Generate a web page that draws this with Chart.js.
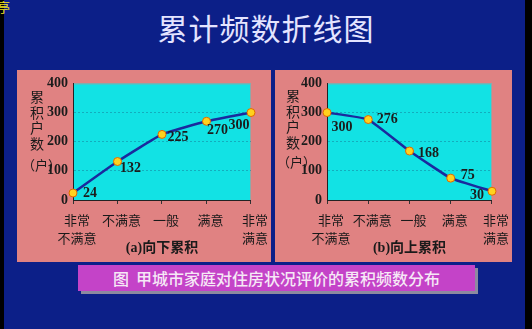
<!DOCTYPE html>
<html>
  <head>
    <meta charset="utf-8" />
    <title>累计频数折线图</title>
    <script src="https://cdn.jsdelivr.net/npm/chart.js"></script>
    <style>
      body { margin: 0; width: 532px; height: 329px; background: #000; overflow: hidden; position: relative; font-family: "Noto Sans CJK SC", sans-serif; }
      .slide { position: absolute; left: 4px; top: 0; width: 521px; height: 329px; background: #0c1f88; }
      .title { position: absolute; left: 0; width: 532px; top: 7px; text-align: center; color: #e4e4ff; font-size: 30px; line-height: 40px; letter-spacing: 1px; }
      .panel { position: absolute; top: 70px; height: 192px; background: #e08282; }
      .panel canvas { position: absolute; left: 0; top: 0; }
      .ytitle { position: absolute; font-size: 14px; line-height: 15.5px; color: #1a1a1a; text-align: center; width: 16px; }
      .yunit { position: absolute; font-size: 13px; line-height: 18px; color: #1a1a1a; white-space: nowrap; }
      .caption { position: absolute; left: 78px; top: 265px; width: 397px; height: 26px; background: #c443c8; box-shadow: 3px 3px 0 #8d8aa0; color: #f6e8f6; font-size: 16px; font-weight: 500; line-height: 26px; text-align: center; }
      .corner { position: absolute; left: -3px; top: -3px; color: #f0e020; font-size: 13px; }
    </style>
  </head>
  <body>
    <div class="slide"></div>
    <div class="corner">亭</div>
    <div class="title">累计频数折线图</div>

    <div class="panel" style="left:17px; width:254px;">
      <canvas id="chartA" width="254" height="192"></canvas>
      <div class="ytitle" style="left:12px; top:19px;">累<br>积<br>户<br>数</div>
      <div class="yunit" style="left:5px; top:86px;">（户）</div>
    </div>

    <div class="panel" style="left:275px; width:237px;">
      <canvas id="chartB" width="237" height="192"></canvas>
      <div class="ytitle" style="left:10px; top:18px;">累<br>积<br>户<br>数</div>
      <div class="yunit" style="left:2px; top:83px;">（户）</div>
    </div>

    <div class="caption">图&nbsp;&nbsp;甲城市家庭对住房状况评价的累积频数分布</div>

    <script>
  // categories and cumulative counts
  const categories = [["非常", "不满意"], ["不满意"], ["一般"], ["满意"], ["非常", "满意"]];
  const downValues = [24, 132, 225, 270, 300];   // (a) 向下累积
  const upValues = [300, 276, 168, 75, 30];      // (b) 向上累积
  const yTicks = [0, 100, 200, 300, 400];

  const serifBold = { family: "'Liberation Serif', 'Noto Sans CJK SC', serif", size: 14, weight: "bold" };

  // cyan plot background + thin frame
  const plotBg = {
    id: "plotBg",
    beforeDraw(chart) {
      const { ctx, chartArea: a } = chart;
      ctx.save();
      ctx.fillStyle = "#12e2e4";
      ctx.fillRect(a.left, a.top, a.right - a.left, a.bottom - a.top);
      ctx.strokeStyle = "#8fa8a8";
      ctx.lineWidth = 1;
      ctx.strokeRect(a.left + 0.5, a.top + 0.5, a.right - a.left - 1, a.bottom - a.top);
      ctx.restore();
    }
  };

  // value labels next to each point
  const valueLabels = {
    id: "valueLabels",
    afterDatasetsDraw(chart, args, opts) {
      const { ctx } = chart;
      const meta = chart.getDatasetMeta(0);
      const values = chart.data.datasets[0].data;
      ctx.save();
      ctx.font = "bold 14px 'Liberation Serif', serif";
      ctx.fillStyle = "#1c1c1c";
      ctx.textAlign = "center";
      ctx.textBaseline = "middle";
      meta.data.forEach((pt, i) => {
        const [dx, dy] = opts.offsets[i];
        ctx.fillText(String(values[i]), pt.x + dx, pt.y + dy);
      });
      ctx.restore();
    }
  };

  function makeChart(id, values, title, yWidth, offsets) {
    const ctx = document.getElementById(id).getContext("2d");
    return new Chart(ctx, {
      type: "line",
      data: {
        labels: categories,
        datasets: [{
          data: values,
          borderColor: "#1a2a9e",
          borderWidth: 2.5,
          tension: 0.12,
          pointRadius: 4,
          pointBackgroundColor: "#ffd21e",
          pointBorderColor: "#e06a00",
          pointBorderWidth: 1
        }]
      },
      options: {
        responsive: false,
        animation: false,
        devicePixelRatio: 1,
        layout: { padding: { top: 12, right: 19, left: 0, bottom: 0 } },
        plugins: {
          legend: { display: false },
          tooltip: { enabled: false },
          valueLabels: { offsets: offsets }
        },
        scales: {
          x: {
            offset: false,
            afterFit: (s) => { s.height = 62; },
            grid: { drawOnChartArea: false, drawTicks: true, tickLength: 4, color: "#333" },
            border: { display: true, color: "#222", width: 1 },
            ticks: {
              color: "#1a1a1a",
              padding: 7,
              labelOffset: 4,
              maxRotation: 0,
              autoSkip: false,
              font: { family: "'Noto Sans CJK SC', sans-serif", size: 13, lineHeight: 1.4 }
            },
            title: {
              display: true,
              text: title,
              color: "#1a1a1a",
              font: serifBold,
              padding: { top: 0, bottom: 5 }
            }
          },
          y: {
            min: 0,
            max: 400,
            afterFit: (s) => { s.width = yWidth; },
            afterBuildTicks: (s) => { s.ticks = yTicks.map(v => ({ value: v })); },
            grid: {
              drawTicks: false,
              color: (c) => (c.tick.value === 0 || c.tick.value === 400) ? "rgba(0,0,0,0)" : "rgba(20,120,150,0.5)",
              lineWidth: 1
            },
            // in v4 the gridline dash is taken from border.dash
            border: { display: true, color: "#222", width: 1, dash: [2, 2] },
            ticks: { color: "#1c1c1c", padding: 5, font: serifBold }
          }
        }
      },
      plugins: [plotBg, valueLabels]
    });
  }

  makeChart("chartA", downValues, "(a)向下累积", 56,
    [[17, 0], [13, 7], [16, 3], [11, 9], [-12, 13]]);
  makeChart("chartB", upValues, "(b)向上累积", 52,
    [[15, 15], [19, 0], [19, 2], [17, -3], [-15, 4]]);
    </script>
  </body>
</html>
